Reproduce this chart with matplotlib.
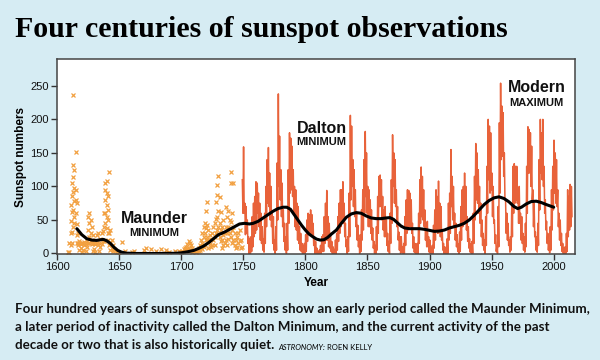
import numpy as np
import matplotlib.pyplot as plt

bg = '#d6ecf3'
red = '#e8623a'
orange = '#f2a040'

# early telescopic observations (before 1750), drawn as crosses
early_years = [
    1609, 1610, 1610, 1611, 1611, 1611, 1611,
    1612, 1612, 1612, 1612, 1612, 1613, 1613, 1613, 1613, 1613, 1613,
    1614, 1614, 1614, 1614, 1614, 1615, 1615, 1615, 1615,
    1616, 1616, 1616, 1616, 1617, 1617, 1617, 1618, 1618, 1618,
    1619, 1619, 1620, 1620, 1621, 1621, 1622, 1622, 1623, 1623, 1624, 1624,
    1625, 1625, 1625, 1626, 1626, 1626, 1626, 1627, 1627, 1627,
    1628, 1628, 1628, 1629, 1629, 1629, 1630, 1630, 1631, 1631,
    1632, 1632, 1633, 1633, 1634, 1634, 1635, 1635, 1636, 1636, 1637, 1637,
    1638, 1638, 1638, 1639, 1639, 1639, 1639, 1639,
    1640, 1640, 1640, 1640, 1640, 1641, 1641, 1641, 1641, 1641,
    1642, 1642, 1642, 1643, 1643, 1643, 1644, 1644, 1645, 1645,
    1646, 1647, 1648, 1650, 1652, 1655, 1660, 1662, 1670,
    1672, 1676, 1680, 1684, 1688, 1690, 1695, 1698,
    1700, 1701, 1702, 1703, 1704, 1704, 1705, 1705, 1706, 1706,
    1707, 1707, 1708, 1708, 1709, 1709, 1710, 1711, 1712, 1713,
    1714, 1714, 1715, 1715, 1716, 1716, 1717, 1717, 1717,
    1718, 1718, 1718, 1719, 1719, 1719, 1720, 1720, 1720,
    1721, 1721, 1721, 1722, 1722, 1722, 1723, 1723, 1724, 1724,
    1725, 1725, 1726, 1726, 1727, 1727, 1727,
    1728, 1728, 1728, 1729, 1729, 1729, 1729, 1730, 1730, 1730,
    1731, 1731, 1731, 1732, 1732, 1732, 1733, 1733, 1733,
    1734, 1734, 1734, 1735, 1735, 1736, 1736, 1736, 1737, 1737, 1737,
    1738, 1738, 1738, 1739, 1739, 1740, 1740, 1740, 1740,
    1741, 1741, 1741, 1742, 1742, 1742, 1743, 1743, 1744, 1744,
    1745, 1745, 1746, 1746, 1747, 1747, 1748, 1748, 1749,
]
early_vals = [
    2, 2, 15, 72, 48, 30, 12,
    105, 85, 62, 32, 15, 237, 132, 114, 92, 65, 40,
    124, 98, 78, 55, 45, 152, 95, 80, 60,
    75, 44, 28, 15, 30, 16, 12, 18, 15, 5,
    14, 8, 16, 2, 15, 5, 17, 12, 14, 3, 18, 10,
    55, 35, 16, 60, 45, 25, 15, 50, 30, 18,
    40, 20, 14, 28, 15, 4, 16, 6, 14, 2,
    28, 16, 30, 12, 16, 4, 22, 10, 30, 14, 33, 18,
    60, 40, 18, 105, 95, 80, 60, 45,
    108, 90, 72, 55, 38, 85, 65, 50, 30, 20,
    122, 30, 12, 35, 15, 5, 20, 8, 12, 3,
    6, 4, 2, 0, 17, 3, 2, 4, 5,
    8, 6, 3, 6, 5, 2, 4, 3,
    2, 4, 6, 8, 10, 3, 14, 6, 18, 8,
    16, 5, 12, 4, 8, 2, 4, 3, 2, 4,
    8, 3, 12, 5, 20, 10, 30, 15, 6,
    40, 25, 10, 45, 30, 12, 64, 38, 20,
    77, 42, 25, 35, 20, 8, 28, 14, 22, 10,
    30, 12, 40, 20, 45, 25, 12,
    77, 52, 30, 102, 87, 55, 35, 115, 64, 40,
    84, 45, 25, 62, 35, 18, 40, 20, 8,
    50, 28, 12, 30, 15, 70, 40, 20, 55, 30, 12,
    64, 40, 22, 50, 30, 122, 105, 47, 25,
    61, 35, 15, 105, 40, 20, 30, 12, 20, 8,
    25, 10, 30, 15, 35, 18, 20, 8, 10,
]

# monthly record 1749-2014: highest and lowest month of every year
years = np.arange(1749, 2015)
month_hi = [
    110,
    159, 75, 70, 50, 25, 22, 25, 55, 75, 85,
    107, 105, 90, 75, 60, 40, 22, 60, 100, 140,
    158, 120, 100, 60, 55, 20, 40, 135, 238, 175,
    125, 105, 65, 45, 25, 45, 125, 180, 172, 160,
    125, 100, 95, 75, 70, 40, 30, 15, 12, 15,
    28, 50, 60, 58, 65, 58, 45, 20, 18, 8,
    2, 5, 12, 25, 28, 55, 75, 94, 55, 45,
    30, 18, 10, 6, 20, 30, 55, 75, 95, 95,
    107, 75, 45, 20, 25, 90, 206, 190, 140, 125,
    95, 60, 42, 22, 28, 65, 95, 140, 182, 150,
    100, 95, 80, 65, 38, 18, 12, 40, 85, 115,
    117, 110, 85, 65, 70, 50, 30, 18, 60, 110,
    177, 150, 140, 95, 70, 32, 25, 25, 10, 15,
    55, 80, 95, 94, 90, 80, 45, 25, 15, 14,
    15, 60, 110, 129, 115, 95, 65, 45, 48, 25,
    20, 8, 12, 42, 65, 95, 85, 108, 75, 70,
    35, 15, 10, 5, 22, 75, 90, 155, 115, 100,
    60, 45, 28, 14, 32, 70, 95, 100, 120, 100,
    55, 40, 22, 14, 18, 60, 115, 164, 150, 125,
    100, 75, 50, 30, 20, 55, 130, 200, 190, 180,
    120, 100, 50, 28, 10, 70, 195, 254, 220, 210,
    150, 80, 60, 45, 20, 25, 75, 130, 134, 130,
    130, 95, 100, 60, 55, 30, 25, 45, 130, 189,
    185, 180, 160, 95, 75, 32, 25, 45, 140, 200,
    180, 200, 130, 80, 48, 30, 18, 40, 95, 130,
    169, 150, 140, 95, 60, 50, 30, 15, 8, 10,
    30, 95, 85, 103, 100,
]
month_lo = [
    60,
    60, 28, 30, 15, 0, 0, 3, 10, 25, 30,
    35, 60, 40, 20, 15, 5, 2, 15, 40, 75,
    70, 50, 40, 15, 5, 0, 5, 50, 100, 80,
    55, 40, 18, 5, 0, 5, 45, 90, 95, 85,
    60, 40, 35, 20, 15, 5, 3, 0, 0, 0,
    3, 18, 30, 28, 30, 25, 12, 0, 0, 0,
    0, 0, 0, 3, 3, 15, 20, 20, 10, 8,
    3, 0, 0, 0, 0, 5, 18, 30, 40, 45,
    45, 25, 10, 0, 3, 25, 80, 100, 70, 55,
    40, 20, 10, 0, 3, 20, 35, 60, 85, 60,
    40, 40, 30, 20, 8, 0, 0, 5, 30, 70,
    70, 50, 35, 25, 25, 12, 3, 0, 15, 45,
    100, 75, 70, 40, 20, 5, 0, 2, 0, 0,
    12, 30, 35, 40, 40, 30, 8, 2, 0, 0,
    0, 15, 45, 55, 50, 40, 20, 10, 10, 2,
    0, 0, 0, 8, 20, 35, 30, 35, 25, 20,
    5, 0, 0, 0, 0, 20, 30, 70, 50, 40,
    20, 10, 3, 0, 3, 20, 40, 45, 50, 35,
    18, 8, 2, 0, 0, 15, 50, 80, 75, 60,
    45, 25, 12, 5, 0, 12, 60, 110, 90, 95,
    55, 45, 15, 3, 0, 10, 90, 140, 145, 115,
    80, 30, 20, 12, 2, 5, 25, 60, 75, 80,
    75, 45, 45, 20, 15, 5, 2, 10, 60, 120,
    120, 100, 80, 40, 25, 5, 2, 12, 65, 120,
    110, 100, 60, 35, 15, 5, 1, 5, 35, 65,
    90, 75, 70, 40, 20, 12, 3, 0, 0, 0,
    3, 25, 35, 40, 55,
]

# smoothed long-term trend (black curve)
trend_years = [1616, 1620, 1624, 1628, 1632, 1635, 1637.5, 1640, 1643, 1646,
               1649, 1652, 1656, 1665, 1680, 1695, 1700, 1705, 1710, 1714,
               1718, 1722, 1726, 1730, 1735, 1740, 1744, 1747, 1751, 1755,
               1758, 1762, 1766, 1770, 1774, 1778, 1782, 1785, 1788, 1791,
               1794, 1797, 1800, 1803, 1806, 1809, 1812, 1815, 1818, 1821,
               1825, 1829, 1833, 1837, 1841, 1845, 1849, 1853, 1857, 1861,
               1865, 1868, 1871, 1874, 1877, 1880, 1884, 1888, 1892, 1896,
               1900, 1904, 1908, 1912, 1916, 1920, 1924, 1928, 1932, 1936,
               1940, 1944, 1948, 1952, 1956, 1960, 1964, 1968, 1971, 1974,
               1978, 1982, 1986, 1990, 1994, 1997, 2000]
trend_vals = [37, 28, 22, 20, 19.5, 20.5, 21, 19, 15, 9,
              4.5, 2, 0.5, 0, 0, 0.3, 1, 2.5, 4.5, 7.5,
              11, 16, 22, 28, 32, 37, 41, 44, 45, 44,
              45, 48, 53, 58, 63, 67, 69, 69, 66, 58,
              50, 42, 35, 29, 25, 21.5, 20, 20.5, 24, 29,
              35, 45, 54, 59, 61, 60, 56, 53, 52, 52,
              53, 53.5, 51, 46, 41, 38, 37, 37, 37, 36,
              34.5, 33, 33.5, 35, 38, 40, 42, 45, 50, 57,
              65, 73, 79, 83, 84.5, 82, 77, 70, 67, 69,
              74, 77.5, 78, 76, 73, 71, 69]

x_ticks = [1600, 1650, 1700, 1750, 1800, 1850, 1900, 1950, 2000]
y_ticks = [0, 50, 100, 150, 200, 250]

caption = [
    'Four hundred years of sunspot observations show an early period called the Maunder Minimum,',
    'a later period of inactivity called the Dalton Minimum, and the current activity of the past',
    'decade or two that is also historically quiet.',
]

fig = plt.figure(figsize=(6, 3.6), dpi=100, facecolor=bg)
ax = fig.add_axes([0.095, 0.294, 0.863, 0.542])
ax.set_facecolor('white')

ax.plot(early_years, early_vals, 'x', color=orange, ms=3.5, mew=0.9)

# interleave the high and low month of each year so the line zigzags like the monthly data
mx = np.ravel(np.column_stack([years + 0.25, years + 0.75]))
my = np.ravel(np.column_stack([month_hi, month_lo]))
ax.plot(mx, my, color=red, lw=1.1)

ax.plot(trend_years, trend_vals, color='black', lw=2.2, solid_capstyle='round')

ax.set_xlim(1600, 2017)
ax.set_ylim(-1, 290)
ax.set_xticks(x_ticks)
ax.set_yticks(y_ticks)
ax.tick_params(direction='out', length=4, width=1, color='#333333',
               labelsize=8, labelcolor='#111111', pad=2)
for lab in ax.get_xticklabels() + ax.get_yticklabels():
    lab.set_family('Liberation Sans')
for s in ax.spines.values():
    s.set_color('#444444')
    s.set_linewidth(1.1)

ax.set_xlabel('Year', fontsize=8.5, fontweight='bold', family='Liberation Sans', labelpad=3)
ax.set_ylabel('Sunspot numbers', fontsize=8.5, fontweight='bold', family='Liberation Sans', labelpad=2)

lbl = dict(family='Liberation Sans', fontweight='bold', ha='center', va='center', color='#111111')
ax.text(1678.5, 52, 'Maunder', fontsize=11.5, **lbl)
ax.text(1678.5, 31, 'MINIMUM', fontsize=8, **lbl)
ax.text(1813, 186, 'Dalton', fontsize=11.5, **lbl)
ax.text(1813, 166, 'MINIMUM', fontsize=8, **lbl)
ax.text(1986.3, 247, 'Modern', fontsize=11.5, **lbl)
ax.text(1986.3, 225, 'MAXIMUM', fontsize=8, **lbl)

fig.text(0.025, 0.918, 'Four centuries of sunspot observations', fontsize=21.5,
         fontweight='bold', family='Liberation Serif', va='center')

cap = dict(fontsize=10, fontweight='bold', family='Lato', va='baseline', color='#111111')
cap_lines = []
for i, line in enumerate(caption):
    cap_lines.append(fig.text(0.025, 1 - (313 + 18 * i) / 360, line, **cap))

# shrink the caption so its first line spans the width it has in the original
fig.canvas.draw()
w = cap_lines[0].get_window_extent(fig.canvas.get_renderer()).width
for t in cap_lines:
    t.set_fontsize(10 * 575 / w)

credit = ax.annotate('ASTRONOMY:', xy=(1, 0), xycoords=cap_lines[-1], xytext=(3, 0),
                     textcoords='offset points', fontsize=5.5, style='italic', family='Lato',
                     va='bottom', ha='left', annotation_clip=False)
ax.annotate('ROEN KELLY', xy=(1, 0), xycoords=credit, xytext=(1.5, 0), textcoords='offset points',
            fontsize=5.5, family='Lato', va='bottom', ha='left', annotation_clip=False)

fig.savefig('out.png', dpi=100, facecolor=bg)
